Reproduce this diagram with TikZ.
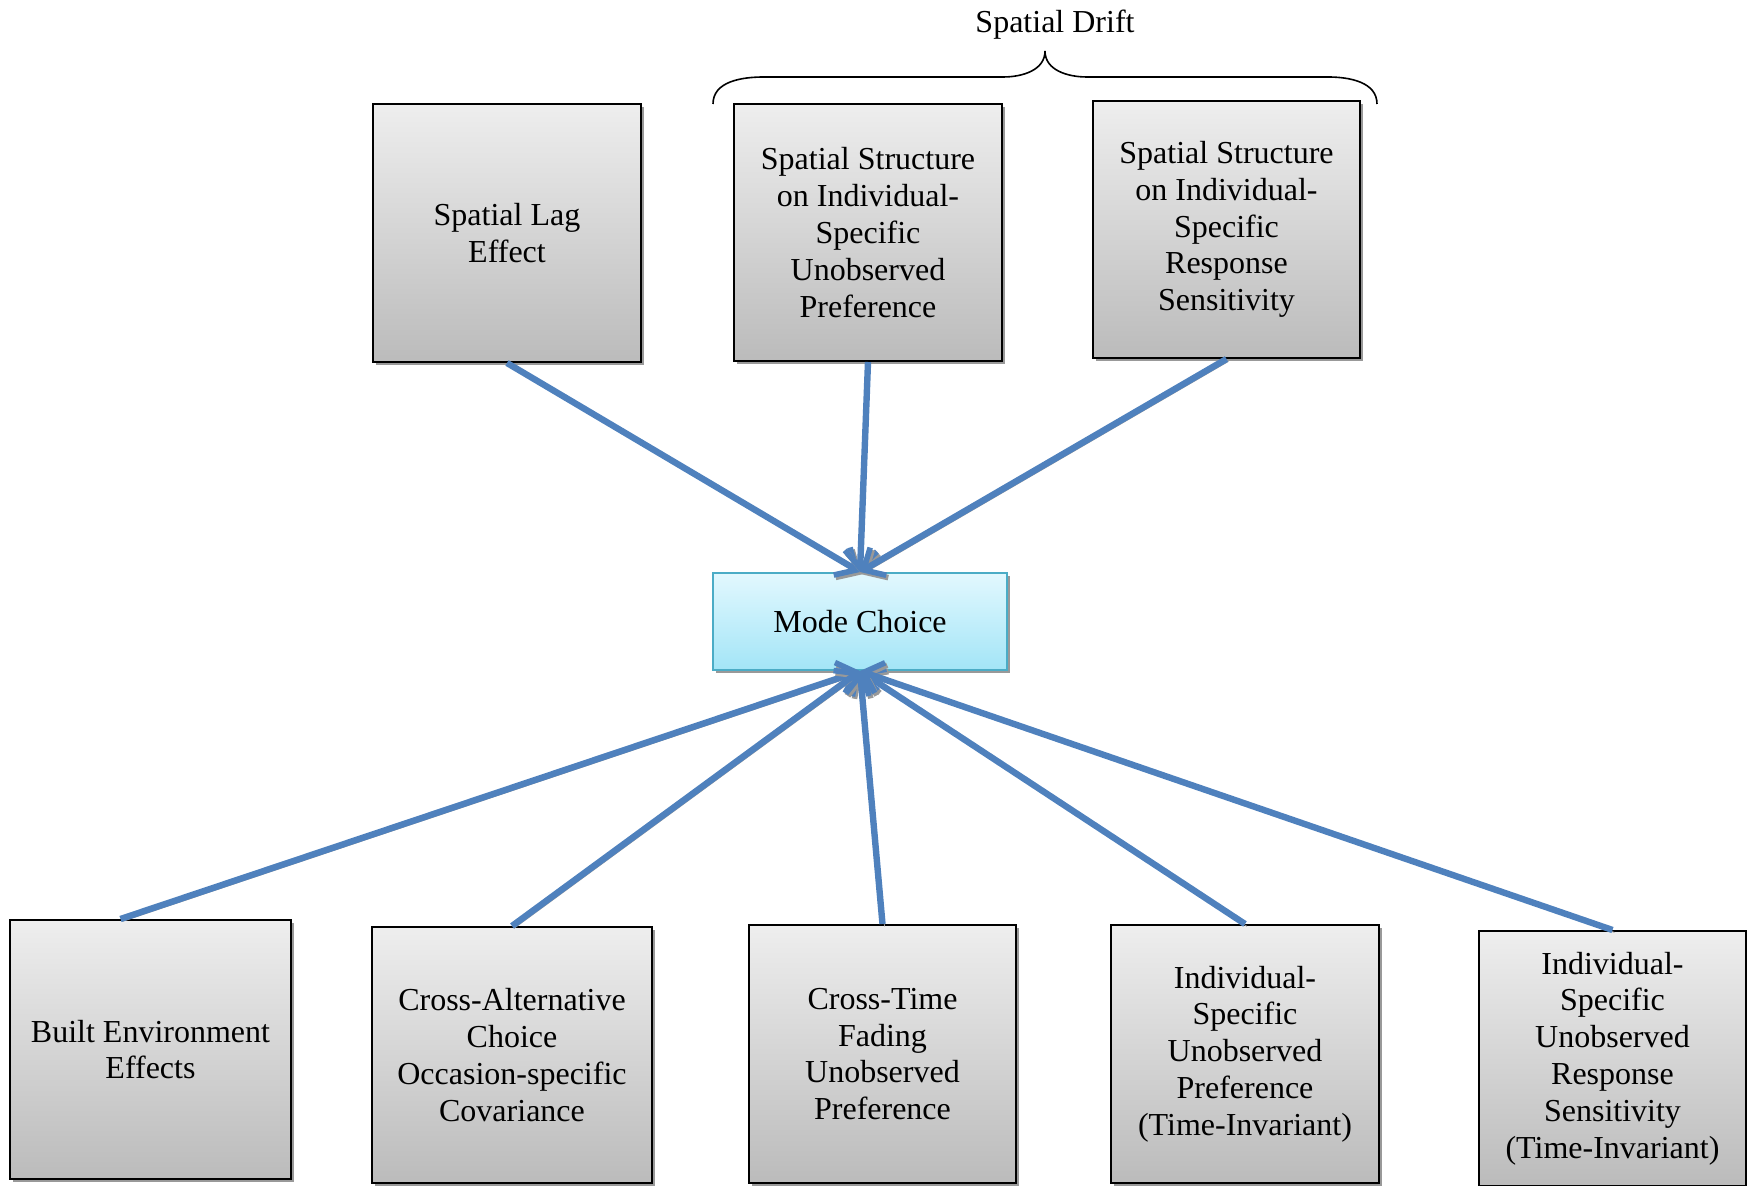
\documentclass[tikz,border=0pt]{standalone}
\usepackage{fontspec}
\setmainfont{Liberation Serif}
\usetikzlibrary{arrows.meta,shadows,calc}
\definecolor{arrowblue}{HTML}{4F81BD}
\definecolor{boxtop}{HTML}{EEEEEE}
\definecolor{boxbot}{HTML}{BBBBBB}
\definecolor{mctop}{HTML}{E2F8FE}
\definecolor{mcbot}{HTML}{A3E5F7}
\definecolor{mcborder}{HTML}{4BACC6}
\begin{document}
\begin{tikzpicture}[x=0.5pt,y=-0.5pt,
  font=\fontsize{16pt}{18.4pt}\selectfont,
  box/.style={draw=black, line width=1pt, top color=boxtop, bottom color=boxbot,
    align=center, inner sep=0pt,
    drop shadow={shadow xshift=1.5pt, shadow yshift=-1.5pt, fill=black!40, opacity=1}},
  mcbox/.style={draw=mcborder, line width=1pt, top color=mctop, bottom color=mcbot,
    align=center, inner sep=0pt, minimum width=147pt, minimum height=48.5pt,
    drop shadow={shadow xshift=1.5pt, shadow yshift=-1.5pt, fill=black!40, opacity=1}},
  arr/.style={draw=arrowblue, line width=3.2pt,
    -{Straight Barb[length=8.5pt,width=16pt,line width=2.8pt]},
    preaction={draw=black!40, transform canvas={shift={(1pt,-1.2pt)}}}},
  bracepath/.style={draw=black, line width=0.8pt}]
\useasboundingbox (0,0) rectangle (1747,1186);

% top row
\node[box, minimum width=134pt, minimum height=129pt] (lag) at (507,233) {Spatial Lag\\Effect};
\node[box, minimum width=134pt, minimum height=128.5pt] (ssp) at (868,232.5) {Spatial Structure\\on Individual-\\Specific\\Unobserved\\Preference};
\node[box, minimum width=133.5pt, minimum height=128.5pt] (ssr) at (1226.5,229.5) {Spatial Structure\\on Individual-\\Specific\\Response\\Sensitivity};

% centre
\node[mcbox] (mc) at (860,621.5) {Mode Choice};

% bottom row
\node[box, minimum width=140.5pt, minimum height=129.5pt] (be) at (150.5,1049.5) {Built Environment\\Effects};
\node[box, minimum width=140pt, minimum height=128pt] (ca) at (512,1055) {Cross-Alternative\\Choice\\Occasion-specific\\Covariance};
\node[box, minimum width=133.5pt, minimum height=129pt] (ct) at (882.5,1054) {Cross-Time\\Fading\\Unobserved\\Preference};
\node[box, minimum width=134pt, minimum height=129pt] (ip) at (1245,1054) {Individual-\\Specific\\Unobserved\\Preference\\(Time-Invariant)};
\node[box, minimum width=133.5pt, minimum height=127.5pt] (ir) at (1612.5,1058.5) {Individual-\\Specific\\Unobserved\\Response\\Sensitivity\\(Time-Invariant)};

% brace and label
\node (drift) at (1055,25) {Spatial Drift};
\draw[bracepath] (713,104) to[out=90,in=180] (764,77) -- (1003,77)
  to[out=0,in=-90] (1045,51) to[out=-90,in=180] (1087,77) -- (1328,77)
  to[out=0,in=90] (1377,104);

% connectors
\coordinate (bestart) at ($(be.north)+(-30,0)$);
\draw[arr] (lag.south) -- (mc.north);
\draw[arr] (ssp.south) -- (mc.north);
\draw[arr] (ssr.south) -- (mc.north);
\draw[arr] (bestart) -- (mc.south);
\draw[arr] (ca.north) -- (mc.south);
\draw[arr] (ct.north) -- (mc.south);
\draw[arr] (ip.north) -- (mc.south);
\draw[arr] (ir.north) -- (mc.south);
\end{tikzpicture}
\end{document}
